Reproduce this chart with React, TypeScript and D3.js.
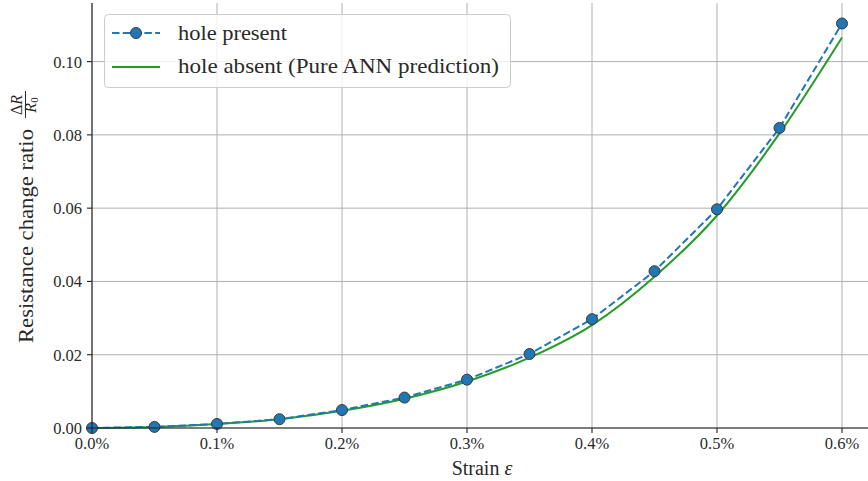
import React from "react";
import * as d3 from "d3";

const strainPct = [0.0, 0.05, 0.1, 0.15, 0.2, 0.25, 0.3, 0.35, 0.4, 0.45, 0.5, 0.55, 0.6];
const holePresent = [0, 0.0003, 0.0011, 0.0024, 0.0049, 0.0083, 0.0132, 0.0202, 0.0297, 0.0428, 0.0597, 0.0819, 0.1104];
const holeAbsent = [0, 0.0003, 0.0011, 0.0024, 0.0047, 0.008, 0.0127, 0.0192, 0.0281, 0.0413, 0.058, 0.0804, 0.1066];
const xTicks = [0, 0.1, 0.2, 0.3, 0.4, 0.5, 0.6];
const yTicks = [0, 0.02, 0.04, 0.06, 0.08, 0.1];
const legendLabels = ["hole present", "hole absent (Pure ANN prediction)"];

const W = 868;
const H = 481;
const FONT = "'Liberation Serif', 'Times New Roman', serif";
const BLUE = "#1f77b4";
const GREEN = "#279b27";
const INK = "#2a2a2a";

export default function App() {
  const left = 92;
  const bottom = 428;
  const top = 3;
  const right = W;
  const x = d3.scaleLinear().domain([0, 0.6]).range([left, 842]);
  const y = d3.scaleLinear().domain([0, 0.1]).range([bottom, 61.6]);

  const pts = strainPct.map((s, i) => ({ s, p: holePresent[i], a: holeAbsent[i] }));
  const lineP = d3.line<any>().x((d) => x(d.s)).y((d) => y(d.p));
  const lineA = d3
    .line<any>()
    .x((d) => x(d.s))
    .y((d) => y(d.a))
    .curve(d3.curveMonotoneX);

  return (
    <svg
      width={W}
      height={H}
      style={{ position: "absolute", left: 0, top: 0, display: "block", background: "#fff" }}
    >
      {/* grid */}
      {xTicks.map((t) => (
        <line key={"gx" + t} x1={x(t)} x2={x(t)} y1={top} y2={bottom} stroke="#b0b0b0" strokeWidth={1} />
      ))}
      {yTicks.map((t) => (
        <line key={"gy" + t} x1={left} x2={right} y1={y(t)} y2={y(t)} stroke="#b0b0b0" strokeWidth={1} />
      ))}

      {/* series */}
      <path d={lineA(pts) || ""} fill="none" stroke={GREEN} strokeWidth={2} />
      <path d={lineP(pts) || ""} fill="none" stroke={BLUE} strokeWidth={2} strokeDasharray="7.5,3.3" />
      {pts.map((d, i) => (
        <circle key={"m" + i} cx={x(d.s)} cy={y(d.p)} r={5.5} fill={BLUE} stroke="#3a3a3a" strokeWidth={1} />
      ))}

      {/* spines */}
      <line x1={left} x2={left} y1={top} y2={bottom + 0.5} stroke="#222" strokeWidth={1.1} />
      <line x1={left - 0.5} x2={right} y1={bottom} y2={bottom} stroke="#222" strokeWidth={1.1} />

      {/* ticks */}
      {xTicks.map((t) => (
        <g key={"xt" + t}>
          <line x1={x(t)} x2={x(t)} y1={bottom} y2={bottom + 5} stroke="#222" strokeWidth={1.1} />
          <text x={x(t)} y={449} textAnchor="middle" fontFamily={FONT} fontSize={16.5} fill={INK}>
            {t.toFixed(1) + "%"}
          </text>
        </g>
      ))}
      {yTicks.map((t) => (
        <g key={"yt" + t}>
          <line x1={left - 5} x2={left} y1={y(t)} y2={y(t)} stroke="#222" strokeWidth={1.1} />
          <text x={82} y={y(t) + 6} textAnchor="end" fontFamily={FONT} fontSize={16.5} fill={INK}>
            {t.toFixed(2)}
          </text>
        </g>
      ))}

      {/* x label */}
      <text x={482} y={475} textAnchor="middle" fontFamily={FONT} fontSize={20} fill={INK}>
        Strain <tspan fontStyle="italic">ε</tspan>
      </text>

      {/* y label */}
      <g transform="translate(33,343) rotate(-90)" fontFamily={FONT} fill={INK}>
        <text x={0} y={0} fontSize={20} textLength={214} lengthAdjust="spacingAndGlyphs">
          Resistance change ratio
        </text>
        <text x={238} y={-11} fontSize={16} textAnchor="middle">
          Δ<tspan fontStyle="italic">R</tspan>
        </text>
        <line x1={225} x2={252} y1={-7.5} y2={-7.5} stroke={INK} strokeWidth={1} />
        <text x={238} y={3} fontSize={16} textAnchor="middle">
          <tspan fontStyle="italic">R</tspan>
          <tspan fontSize={11} dy={2}>0</tspan>
        </text>
      </g>

      {/* legend */}
      <rect x={104.5} y={14.5} width={406} height={73} rx={4} fill="#fff" fillOpacity={0.8} stroke="#cccccc" strokeWidth={1} />
      <line x1={112} x2={160} y1={33} y2={33} stroke={BLUE} strokeWidth={2} strokeDasharray="7.5,3.3" />
      <circle cx={136} cy={33} r={5.5} fill={BLUE} stroke="#3a3a3a" strokeWidth={1} />
      <line x1={112} x2={160} y1={67} y2={67} stroke={GREEN} strokeWidth={2} />
      <text x={178} y={40} fontFamily={FONT} fontSize={21} fill={INK} textLength={109} lengthAdjust="spacingAndGlyphs">
        {legendLabels[0]}
      </text>
      <text x={178} y={73} fontFamily={FONT} fontSize={21} fill={INK} textLength={321} lengthAdjust="spacingAndGlyphs">
        {legendLabels[1]}
      </text>
    </svg>
  );
}
